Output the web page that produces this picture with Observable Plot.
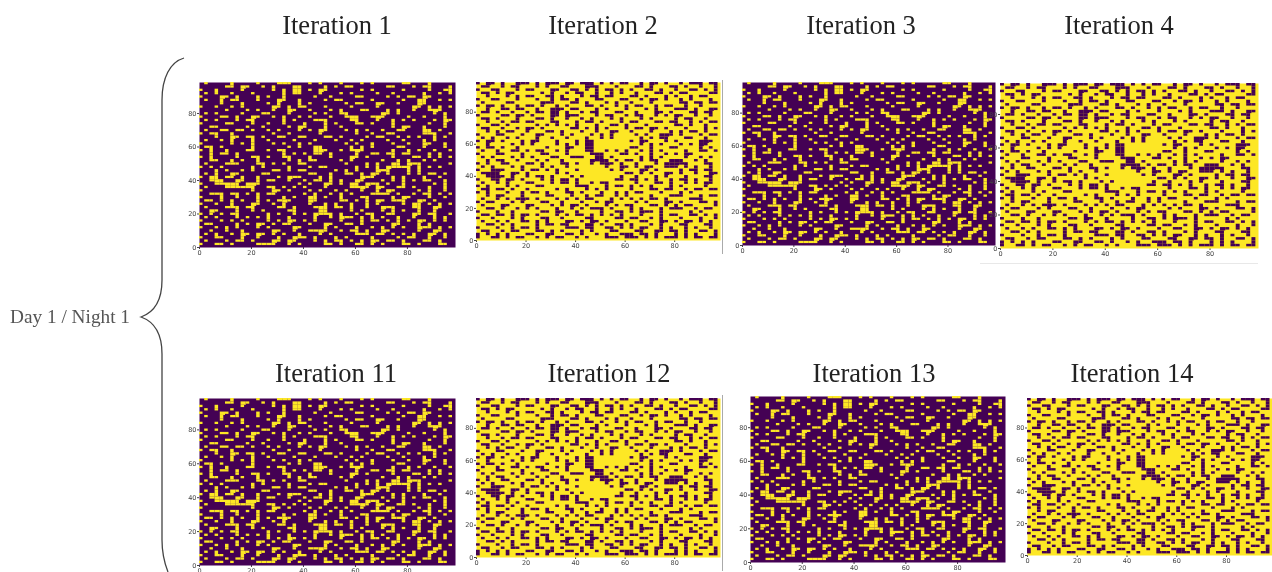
<!DOCTYPE html>
<html><head><meta charset="utf-8">
<script src="https://cdn.jsdelivr.net/npm/d3@7"></script>
<script src="https://cdn.jsdelivr.net/npm/@observablehq/plot@0.6"></script>
<style>
html,body{margin:0;padding:0;background:#fff;overflow:hidden}
#page{position:relative;width:1272px;height:572px;overflow:hidden;background:#fff}
#page>svg.plot{filter:blur(.7px)}
.t{position:absolute;font-family:"Liberation Serif",serif;white-space:nowrap;transform:translate(-50%,-50%);filter:blur(.45px)}
</style></head><body><div id="page"></div>
<script>
// Cell states estimated by eye from the reference on a 2-unit grid ("x" = minority colour).
const darkPanelRows = [
".x....x....x...xxx...x.x...x...x.x.....xx...x....",
".....xx.xx..x.x...xx....x.x.xx......xx...x.xx...x",
"x..x....x.....x.x.xx.x.xx......x.x.....x....x..xx",
".x.x..x...x.....x.xx...x...x.x....x..x.....x..x.x",
"x...xx.x...x.x..x.....x..x....xx....x.x.xx.xx....",
".x..x.xx...x...xx..x....x.xx.....x.....x..xx..x.x",
"....x...x....x.x...x.x......x.xx..xx..x...xx.....",
"x..x..x.x.....xx.x.xx...x....x....x......xx.x.x.x",
".....x...x.x..x..xx..x...x.x...xx...x.x..x..xxx..",
".x.x....x...xx...x....x.x..xx......xx.x......x.x.",
"x...xx.x..xx..x.x..x.x...x..xxx..xxx....x..x...x.",
".x.x...x.xx.....x.x...xxx....xx...x..x.x.x...x.xx",
"x....xx...x..x..x...x...x.x...xx.x...x......x..x.",
"..xx.....x..x....x.xx...x..x.........x.xx..x...x.",
".x..xx.xx.x..x.x...x.x.xx...x.x.x..x..xx...xx.x..",
"x.xx..x.......x..x.....x......x..x..xx.....xxx..x",
"...x..xx.xx.x..xx..xx...xx.x....x.xx..x.x.x..x.x.",
".x..x.x...x..x....x...x...x..x.x....x..x...x.x...",
"x.....x.x.x...x.x..x.x......x.x..x...x..x..xx..x.",
".xx.x.....x......x.x..xx.....x.x.x....xx...x...x.",
"x.x..x...xx..x.xx.....xxx..x.xxx.....x..x.x..x..x",
"..x.xx.x........x.x.x.xx.x....x..xx.xx.xx...x.x..",
"x.x....x..xx.x..xx...x...x...xx.x....x...xx.x.x.x",
"..xx..x.x..x.....x.x.xx....x.x.....x..x.x..x.x...",
".x...xxx...xx.x.x..xx.......x...x.x..xx.xxx.....x",
"x.x.x.....x.x....x...x.xx.....x.x.x.xxxxx.x.x.x..",
"...x.x..x.x...xx.x.xx.....x.x.x...xxx...x.x......",
".x.x..xx....xx.......xx..x..xx.x.xx.x...x.x.xx.x.",
"x.xx.xx.x..x...x.xxx...x.x.....xxx...x.x...x..x..",
"..xxx..xx..x.xx..x..x.xx.x.x..xx...x.x.x.x.xx..x.",
"x..xxxxx.xxx.......x.x..xx.x.xx.xxx.x..x.....x.x.",
".x...xxxxxx..xx.x.x.x...x....xxxx.xx..xx.x..x..x.",
"x.........x...xx.x...x.x..x.x..x..x.xx....x.x..x.",
"..xxx.xx.x.x.xx.....x.x..x.x.x...xxxx.x..x.xx.x.x",
"x...x..x...x....x.x..xx.x..x...xx....x.xx...x..x.",
".xx.x.x.x..x.x.xxx...xx....xx.x.x.xx.xxx..xx.x...",
"x..x..x...xx..x.x....x..x.x..x..x.x....x.xx.x.x.x",
".x...xxx.xx....xx.x...xxx.xx.x..x..xxx...xx..xx..",
"..xx...x..x.x....xx....xx....x.x...x.x.x..x..x...",
"x.x.x.xx.....x.x..x.x.xxxx.x..x.xx..xx...xx.xx..x",
".x.x...x.x.x.x...x....x..x.xxx.x.x.x..x..x...x.x.",
"x...x.x.x....x.x.xx.x.x....x...x.xx.x.x.x.xx.x.x.",
".xx....x.x.xx.x.xx...x..xx..xx.x.....xx...x.x....",
"x..x.x.x...x.x....xx....x.x...x..x.x.x.x..xxx.x.x",
"..x..x..x.....xx..x..xxxx..x.xx.x..xx.....x..xx..",
".x.x..x.xx.xx.x.x..x...x.x....xxx.xx.x.x.x..xx.x.",
"x..xx...x..x...x..xxx.x...x.x....x....x.xx..x..x.",
".x...x.xx.x...xx.xx...x.x.xx.x.x.xx.xx.x...xx.x..",
"x..xx.x....xxxx..x.x....xx.x..xx.x.x...xx.x...xx."
];
const yellowPanelRows = [
"x.xx.x..xxx.x.xxx.xx.xxx.x.x.xx..x.xx.x..x.xxx.xx",
".xx..x.xx...x.x..xx...xxx...x...xx.x...xx.x..x..x",
"x..xx...x.xx...xx..xx.x.x.xx.x.x..xx.x..x..xx.x.x",
".xx.x.xx.....x.x..x.xx..x..x.x..x...xx.x.xx....xx",
"..x...x.x.xx..xx.x...x.xx.xx...xx.x...x.x..x.xx..",
"x..xx...x...x..x.xx.x...xx...xx..x.xx.x..x.x...x.",
".x....xx.....xxx...xx.x...x.x..x...x.....xx.xx.xx",
"x.xx.x..x.xx.x..x.x...xx.x..x.x.xx..x.xx..x..x...",
"..x..xx.xx..x..xxx.xx...x.x...x...x.x...xxx.x..xx",
".xx.x..x..x.xx.xx.x..x.xx...xx..x...xx.x...xx.xx.",
"x....xx.xx.x...xx.xxx...x.xx..x.xx..x.x.xx..x..x.",
".xx.x...x...xx.x..x..x.x...x.x...x.x....x.xx..x..",
"..x..x.xx.xx...xx...x.xx.x...x.xx...xx.xx..x.x.xx",
"x..xx.x.....x.x.x.x.x...x..xx.x...x.....xx.x..x..",
".xx..x..x.xx.x.....xx.x.x.x...x.xx.xx.x...x...x.x",
"..x.x.xx..x...xx.x...x..x..xx..x...x...x.x.xx.x..",
"x...xx...x..xx...x.x...x.x.x....x.x..xxx.x...x.xx",
".x.x..x.x...x..x..x...x..x.x.....x.x.xx...xx..x..",
"x.xx.x...x.xx...x...x.xx.......x.xx...x.x....xxx.",
"..x....x.x.x....x.x.x.xx.........x.x.x...x.x.xx..",
"x.xx.x..x.....x...xx..xx.......xx..x...xx....x.x.",
".x..x..xx.x.xx..x.x...xx..x.x.x..x.x.x....x..xx.x",
"x...xx...x...xx...x....xxx...xx.x..x..x.x.xx.....",
".x.x...x.x.x...xx..xxx..xx.x.....x.x.x....x..x.x.",
"..x.xx..x...x.x..x.....xxxx.x.xx.x.xx..xxx..x.x..",
"x.x..xx...xx.x...xx.x..x.xxx.x..x...x.xxxxx...xx.",
".x.x...x.x...x.x..x.......x..xx.x.xx..xxx.x.x..x.",
"x..xxx...x.xx.x.x...x......x.x...xx.x....x.xx.xx.",
".xxxx..xx.x.....x.x...........xx.x.x..xx.x..x..xx",
"..xxxx.x..x.xx.x...x.x.......x..x...x.x...x...xx.",
"x..xx.xx.x...x.x.xx.x.......xx.xx.x.x..x.xx.x..x.",
".x..x.x...xx...x.xx.x..x.xx.....x...xx.x..x.x.xx.",
"x.x...x.x...xx......xxx...x.xx.x.x.x...x.x....x..",
".xx.xx.x..x.....x.x...x.x.x....x...xx.xx..x.xx.xx",
"x.x...x..x.xx.x...xx.x...x..x.x.xx...x...x.x.....",
"..x.xx...x....xx...x..x.xx..x.x....x...xxx...x.xx",
".x..x.x.xxx.x...x.x.x.xx...x.x.x.x.xx.x....xxx...",
"x.xx...x.x...xx..x...x..x.xx....x.x...xx.x...xx.x",
".x...xx...xx...x.x.xx.x...x.x.xx...xx.x.x.xx....x",
"..xx.x..x.x.x...x..x.x.xxx.x...x.x...x.xxx..x.xx.",
"x...x..x.....xx.xx..x....x..xx.x.xxx.x.....x.x...",
".xx.xx.x.xx.x...x.x.xx.x.x.x.x...x...x.xx..xx.x.x",
"x..x...x.x...xx..x....xx....xx.xx..x.x...x...x..x",
".x..x.x..xx.x.x...xx.x.xx.x...x..xx..xx.x.xx.x.x.",
"..xx.x.x....x.xx.xx...xx.x..xx.x...x.x...xx...xx.",
"x...x..x.xx.x.....xxx.xx..xx.x.x.xx..x.x..x.x..x.",
".xx..x.xx...xx.x.x...x.x...xx...xx..xx.xx.x..xx.x",
"x.x.x.x...xx..xx..xx.x..x.x..xxx.xx.x...x.x.x...x",
"x..xx.x.xx..x.x.xx..x.x...xxx.xxx.x.x.xxx.x.xx.xx"
];
const rowsByPanel = [darkPanelRows, yellowPanelRows];
const titles = ["Iteration 1","Iteration 2","Iteration 3","Iteration 4","Iteration 11","Iteration 12","Iteration 13","Iteration 14"];
const ticks = [0,20,40,60,80];
const domainMax = 98.5;
const cellStep = 2;
const purple = "#440154", yellow = "#fde725";

// Page layout (pixels) and the drawn speck size in data units, per panel kind.
const frames = [
  {x:199,y:82,w:256,h:165,tx:337,ty:25},{x:476,y:82,w:244,h:158,tx:603,ty:25},
  {x:742,y:82,w:253,h:163,tx:861,ty:25},{x:1000,y:83,w:258,h:165,tx:1119,ty:25},
  {x:199,y:398,w:256,h:167,tx:336,ty:373},{x:476,y:398,w:244,h:159,tx:609,ty:373},
  {x:750,y:396,w:255,h:166,tx:874,ty:373},{x:1027,y:398,w:245,h:157,tx:1132,ty:373}
];
const speckSize = {dark:1.35, light:1.5};
const page = document.getElementById("page");
// A cell reaches into its right and lower neighbour when that neighbour is set, so clusters join up.
const cellsFrom = (rows,s) => rows.flatMap((row,r) => [...row].flatMap((c,i) => {
  if (c !== "x") return [];
  const w = row[i+1] === "x" ? cellStep : s;
  const h = rows[r+1] && rows[r+1][i] === "x" ? cellStep : s;
  return [{x1:i*cellStep,x2:i*cellStep+w,y1:domainMax-r*cellStep-h,y2:domainMax-r*cellStep}];
}));

frames.forEach((f,i) => {
  const dark = i % 2 === 0;
  const ml = 24, mb = 16;
  const svg = Plot.plot({
    width:f.w+ml, height:f.h+mb, marginLeft:ml, marginRight:0, marginTop:0, marginBottom:mb,
    x:{domain:[0,domainMax],ticks,tickSize:2,tickPadding:1,label:null},
    y:{domain:[0,domainMax],ticks,tickSize:2,tickPadding:1,label:null},
    style:{background:"transparent",fontSize:"6.5px",color:"#444",fontFamily:"'DejaVu Sans',sans-serif",overflow:"visible"},
    marks:[
      Plot.frame({fill:dark?purple:yellow,stroke:null}),
      Plot.rect(cellsFrom(rowsByPanel[dark?0:1],dark?speckSize.dark:speckSize.light),{x1:"x1",x2:"x2",y1:"y1",y2:"y2",fill:dark?yellow:purple,inset:0})
    ]
  });
  svg.classList.add("plot");
  svg.style.left = (f.x-ml)+"px"; svg.style.top = f.y+"px"; svg.style.position="absolute";
  page.appendChild(svg);
  const t = document.createElement("div");
  t.className="t"; t.textContent=titles[i];
  t.style.cssText=`left:${f.tx}px;top:${f.ty}px;font-size:26.5px;color:#222`;
  page.appendChild(t);
});
const lab = document.createElement("div");
lab.className="t"; lab.textContent="Day 1 / Night 1";
lab.style.cssText="left:70px;top:317px;font-size:19.3px;color:#555;filter:blur(.7px)";
page.appendChild(lab);

// Brace and stray rules, drawn as annotation.
const over = d3.create("svg").attr("width",1272).attr("height",572).style("position","absolute").style("left",0).style("top",0).style("pointer-events","none");
over.append("path").attr("fill","none").attr("stroke","#444").attr("stroke-width",1.3)
  .attr("d","M184,58 C170,62 162,78 162,100 L162,280 C162,300 155,312 141,317 C155,322 162,334 162,354 L162,540 C162,552 164,562 168,572");
over.append("path").attr("stroke","#aaa").attr("fill","none").attr("d","M722.5,80V254M722.5,395V571");
over.append("path").attr("stroke","#e8e8e8").attr("fill","none").attr("d","M980,263.5H1258");
page.appendChild(over.node());
</script></body></html>
